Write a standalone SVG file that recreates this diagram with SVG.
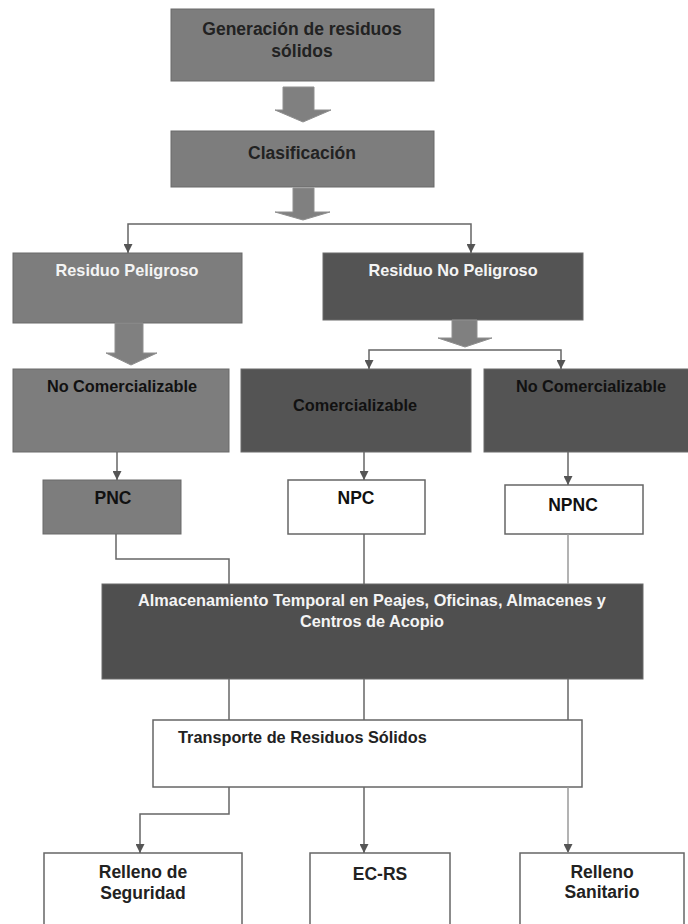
<svg xmlns="http://www.w3.org/2000/svg" width="688" height="924" viewBox="0 0 688 924">
<defs>
<style>
text{font-family:"Liberation Sans",Arial,sans-serif;font-weight:bold;text-anchor:middle}
.big{font-size:17.5px;fill:#222}
.mid{font-size:16.3px}
.w{fill:#f4f4f4}
.k{fill:#111}
.g1{fill:#7d7d7d;stroke:#6a6a6a;stroke-width:1}
.g2{fill:#545454;stroke:#6a6a6a;stroke-width:1}
.g3{fill:#4f4f4f;stroke:#6a6a6a;stroke-width:1}
.wb{fill:#ffffff;stroke:#666;stroke-width:1.5}
.ba{fill:#808080;stroke:#8f8f8f;stroke-width:1}
.ln{fill:none;stroke:#666;stroke-width:1.5}
.lt{fill:none;stroke:#9a9a9a;stroke-width:1.5}
</style>
<marker id="ah" viewBox="0 0 10 10" refX="10" refY="5" markerWidth="9" markerHeight="9" markerUnits="userSpaceOnUse" orient="auto">
<path d="M0,0 L10,5 L0,10 z" fill="#555"/>
</marker>
</defs>
<rect width="688" height="924" fill="#ffffff"/>

<g id="generacion">
<rect class="g1" x="171" y="9" width="263" height="72"/>
<text class="big" x="302" y="35">Generación de residuos</text>
<text class="big" x="302" y="57">sólidos</text>
</g>

<g id="clasificacion">
<rect class="g1" x="171" y="131" width="263" height="56"/>
<text class="big" x="302" y="159">Clasificación</text>
</g>

<g id="residuo-peligroso">
<rect class="g1" x="13" y="253" width="229" height="70"/>
<text class="mid w" x="127" y="276">Residuo Peligroso</text>
</g>

<g id="residuo-no-peligroso">
<rect class="g2" x="323" y="253" width="260" height="67"/>
<text class="mid w" x="453" y="276">Residuo No Peligroso</text>
</g>

<g id="no-comercializable-p">
<rect class="g1" x="13" y="369" width="216" height="83"/>
<text class="mid k" x="122" y="392">No Comercializable</text>
</g>

<g id="comercializable">
<rect class="g2" x="241" y="369" width="230" height="83"/>
<text class="mid k" x="355" y="411">Comercializable</text>
</g>

<g id="no-comercializable-np">
<rect class="g2" x="484" y="369" width="210" height="83"/>
<text class="mid k" x="591" y="392">No Comercializable</text>
</g>

<g id="pnc">
<rect class="g1" x="43" y="480" width="138" height="54"/>
<text class="big k" x="113" y="504">PNC</text>
</g>

<g id="npc">
<rect class="wb" x="288" y="480" width="137" height="54"/>
<text class="big k" x="356" y="504">NPC</text>
</g>

<g id="npnc">
<rect class="wb" x="505" y="485" width="138" height="49"/>
<text class="big k" x="573" y="511">NPNC</text>
</g>

<g id="almacenamiento">
<rect class="g3" x="102" y="584" width="541" height="95"/>
<text class="mid w" x="372" y="606">Almacenamiento Temporal en Peajes, Oficinas, Almacenes y</text>
<text class="mid w" x="372" y="627">Centros de Acopio</text>
</g>

<g id="transporte">
<rect class="wb" x="153" y="720" width="429" height="67"/>
<text class="mid" x="178" y="743" style="text-anchor:start;fill:#222">Transporte de Residuos Sólidos</text>
</g>

<g id="relleno-seguridad">
<rect class="wb" x="44" y="853" width="198" height="80"/>
<text class="big" x="143" y="878">Relleno de</text>
<text class="big" x="143" y="899">Seguridad</text>
</g>

<g id="ec-rs">
<rect class="wb" x="310" y="853" width="140" height="80"/>
<text class="big" x="380" y="880">EC-RS</text>
</g>

<g id="relleno-sanitario">
<rect class="wb" x="520" y="853" width="164" height="80"/>
<text class="big" x="602" y="878">Relleno</text>
<text class="big" x="602" y="898">Sanitario</text>
</g>

<g id="connectors">
<path class="ba" d="M283,87 H314 V110 H331 L303,122 L275,110 H283 Z"/>
<path class="ba" d="M293,188 H314 V212 H330 L303,220 L275,212 H293 Z"/>
<path class="ba" d="M115,323 H143 V353 H157 L131,365 L106,353 H115 Z"/>
<path class="ba" d="M452,320 H477 V338 H492 L465,347 L438,338 H452 Z"/>
<path class="ln" d="M300,224 H128 V253" marker-end="url(#ah)"/>
<path class="ln" d="M300,224 H471 V253" marker-end="url(#ah)"/>
<path class="ln" d="M465,350 H369 V369" marker-end="url(#ah)"/>
<path class="ln" d="M465,350 H561 V369" marker-end="url(#ah)"/>
<path class="ln" d="M117,452 V480" marker-end="url(#ah)"/>
<path class="ln" d="M364,452 V480" marker-end="url(#ah)"/>
<path class="ln" d="M568,452 V485" marker-end="url(#ah)"/>
<path class="ln" d="M116,534 V559 H229 V584"/>
<path class="ln" d="M364,534 V584"/>
<path class="lt" d="M568,534 V584"/>
<path class="ln" d="M229,679 V720"/>
<path class="ln" d="M364,679 V720"/>
<path class="ln" d="M568,679 V720"/>
<path class="ln" d="M229,787 V814 H140 V853" marker-end="url(#ah)"/>
<path class="ln" d="M364,787 V853" marker-end="url(#ah)"/>
<path class="lt" d="M568,787 V853" marker-end="url(#ah)"/>
</g>
</svg>
